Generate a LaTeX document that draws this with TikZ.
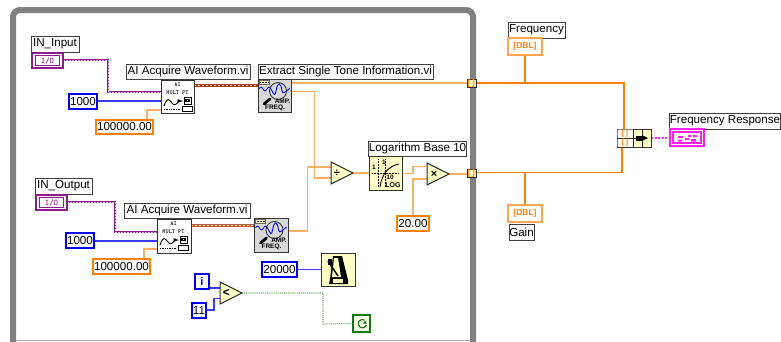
\documentclass[tikz,border=0pt]{standalone}
\usepackage{fontspec}
\setmainfont{Liberation Sans}
\usetikzlibrary{backgrounds}
\definecolor{wireor}{HTML}{FF8000}
\definecolor{thinor}{HTML}{FFAE66}
\definecolor{lvblue}{HTML}{0000F0}
\definecolor{thinbl}{HTML}{3838FF}
\definecolor{lvpurple}{HTML}{8C1C8C}
\definecolor{lvbrown}{HTML}{A83A0C}
\definecolor{lvyellow}{HTML}{FFFFC8}
\definecolor{lvpink}{HTML}{FF20F0}
\definecolor{lvgreen}{HTML}{107A10}
\tikzset{
  base/.style={inner sep=0pt,outer sep=0pt,font=\fontsize{11.6}{12}\selectfont},
  lbl/.style={base,draw=black!75,line width=0.9pt,fill=white},
  cblue/.style={base,draw=lvblue,line width=2.4pt,fill=white},
  corange/.style={base,draw=wireor,line width=2.4pt,fill=white},
  iotm/.style={base,draw=lvpurple,line width=2.2pt,fill=white},
  dblt/.style={base,draw=wireor!70,line width=1.2pt,fill=white,text=wireor,font=\fontsize{8.5}{8.5}\bfseries\selectfont},
  viw/.style={base,draw=black!80,line width=1pt,fill=white},
  vig/.style={base,draw=black!80,line width=1pt,fill=black!15},
  viy/.style={base,draw=black!80,line width=1pt,fill=lvyellow},
  tun/.style={base,draw=black!85,line width=1pt,fill=lvyellow,text=wireor,font=\fontsize{8.5}{8}\bfseries\selectfont},
  pinkt/.style={base,draw=lvpink,line width=1.2pt,fill=white},
  stopt/.style={base,draw=lvgreen,line width=1.3pt,fill=lvyellow!40},
  gap/.style={base},
  tri/.style={draw=black!85,line width=1pt,fill=lvyellow},
  thino/.style={draw=thinor,line width=1.2pt},
  thicko/.style={draw=wireor,line width=1.8pt},
  thinb/.style={draw=thinbl,line width=1.3pt},
  dotg/.style={draw=lvgreen!60,line width=1.1pt,densely dotted},
  tiny/.style={inner sep=0pt,font=\fontsize{6}{6}\ttfamily\bfseries\selectfont},
  aiicon/.pic={
    \node[tiny] (t1) at (16.5,5) {AI};
    \node[tiny] (t2) at (16.5,13) {MULT PT};
    \draw[black,line width=0.9pt] (3,26) .. controls (6,17) and (8,19) .. (11,23) .. controls (13,26) and (15,25) .. (17,22);
    \draw[black,densely dotted,line width=0.7pt] (3,29)--(19,29);
    \draw[black,line width=0.9pt,-latex] (17,21)--(22,21);
    \draw[black,line width=0.9pt] (23,17) rectangle (30,24);
    \draw[black,line width=1.3pt] (25,19.5) rectangle (28,21.5);
    \draw[black,line width=0.9pt] (21,26) rectangle (31,31);
  },
  ampicon/.pic={
    \fill[lvyellow,draw=black!60,line width=0.5pt] (1,1) rectangle (11,5);
    \draw[black,line width=0.5pt,densely dotted] (2,3)--(10,3);
    \draw[lvblue,line width=0.8pt] (1,10) sin (3,8) cos (5,10) sin (7,12) cos (9,10) sin (11,8) cos (13,10);
    \draw[black!85,line width=0.8pt] (20,12) circle (8.5);
    \draw[lvblue,line width=0.9pt] (13,10) .. controls (16,16) and (17,18) .. (18,12) .. controls (20,1) and (23,4) .. (24,12) .. controls (25,16) and (27,13) .. (32,9);
    \draw[black,line width=2.8pt,line cap=round] (12,20)--(6,25);
    \node[tiny,font=\fontsize{6.5}{6.5}\bfseries\selectfont] (t1) at (24.5,22) {AMP.};
    \node[tiny,font=\fontsize{6.5}{6.5}\bfseries\selectfont] (t2) at (17,29) {FREQ.};
  },
  logicon/.pic={
    \draw[black,line width=0.5pt,densely dotted] (9,3)--(9,31) (3,17)--(30,17) (16,3)--(16,31);
    \draw[black,line width=0.9pt] (11,31) .. controls (13,17) and (20,10) .. (30,8);
    \node[tiny,font=\fontsize{6.5}{6}\bfseries\selectfont] (t1) at (5,11) {1};
    \node[tiny,font=\fontsize{6.5}{6}\bfseries\selectfont] (t2) at (15,6) {1};
    \node[tiny,font=\fontsize{6.5}{6}\bfseries\selectfont] (t3) at (21,21) {10};
    \node[tiny,font=\fontsize{7}{7}\bfseries\selectfont] (t4) at (24,29) {LOG};
  },
  metroicon/.pic={
    \fill[black] (12,3)--(21,3)--(27,27)--(27,31)--(8,31)--(9,26)--cycle;
    \fill[lvyellow] (13,5)--(17,5)--(20,24)--(11,24)--cycle;
    \fill[lvyellow] (12,26) rectangle (22,30);
    \draw[black,line width=1.5pt] (7,8)--(17,23);
    \fill[black] (7,6) rectangle (11,12);
  },
  stopicon/.pic={
    \draw[lvgreen,line width=1.1pt,-] (11.5,5) arc[start angle=-60,end angle=-340,radius=4.2];
    \fill[lvgreen] (10,8.5) -- (13.5,8.5) -- (12,5.5) -- cycle;
  },
  bundleicon/.pic={
    \fill[white] (0.5,0.5) rectangle (16,8.5) (0.5,9.5) rectangle (16,17.5);
    \draw[black!85,line width=0.8pt] (16.5,0)--(16.5,18) (25,0)--(25,18) (0,9)--(16.5,9);
    \node[tiny,text=wireor,font=\fontsize{7.5}{7}\bfseries\selectfont] (t1) at (8,4.5) {[\,]};
    \node[tiny,text=wireor,font=\fontsize{7.5}{7}\bfseries\selectfont] (t2) at (8,13.5) {[\,]};
    \draw[black,line width=1pt] (16.5,9)--(22,9);
    \fill[black] (19,6.5) rectangle (25,11.5);
    \fill[black] (25,6)--(31,9)--(25,12)--cycle;
  },
  clustericon/.pic={
    \draw[lvpink,line width=1.2pt] (3,3) rectangle (31,14);
    \fill[lvpink] (8,7) rectangle (13,9) (15,9) rectangle (19,11) (23,6) rectangle (27,8) (8,10.5) rectangle (12,12.5) (21,10) rectangle (26,12.5) (18,6) rectangle (21,8);
  },
}
\newcommand{\bx}[7]{\node[#1,minimum width={(#5-#3)*1pt},minimum height={(#6-#4)*1pt}] (#2) at ({(#3+#5)/2},{(#4+#6)/2}) {#7};}
\newcommand{\trinode}[5]{%
  \node[gap,minimum width={(#4-#2)*1pt},minimum height={(#5-#3)*1pt}] (#1) at ({(#2+#4)/2},{(#3+#5)/2}) {};
  \path[tri] (#1.north west)--(#1.east)--(#1.south west)--cycle;}
\begin{document}
\begin{tikzpicture}[x=1pt,y=-1pt]
\useasboundingbox (0,0) rectangle (781,341);
% frame
\draw[black!50,line width=6pt,rounded corners=7pt] (13,345)--(13,10)--(473,10)--(473,345);
\draw[black!30,line width=1.2pt] (16,340.4)--(470,340.4);
% labels
\bx{lbl}{lIn}{31}{36}{79}{52}{IN\_Input}
\bx{lbl}{lAiA}{126}{64}{250}{79}{AI Acquire Waveform.vi}
\bx{lbl}{lExt}{258}{64}{433}{79}{Extract Single Tone Information.vi}
\bx{lbl}{lOut}{35}{178}{92}{194}{IN\_Output}
\bx{lbl}{lAiB}{124}{203}{250}{218}{AI Acquire Waveform.vi}
\bx{lbl}{lLog}{369}{141}{466}{156}{Logarithm Base 10}
\bx{lbl}{lFreq}{508}{22}{565}{38}{Frequency}
\bx{lbl}{lGain}{509}{224}{534}{240}{Gain}
\bx{lbl}{lResp}{670}{113}{780}{129}{Frequency Response}
% I/O terminals
\bx{iotm}{ioA}{32}{53}{63}{68}{}
\bx{iotm}{ioB}{36}{195}{67}{210}{}
\node[draw=lvpurple,line width=0.8pt,minimum width=24pt,minimum height=10pt,inner sep=0pt,font=\fontsize{8.5}{8}\ttfamily\bfseries\selectfont,text=lvpurple] (ioAt) at (ioA) {I/O};
\node[draw=lvpurple,line width=0.8pt,minimum width=24pt,minimum height=10pt,inner sep=0pt,font=\fontsize{8.5}{8}\ttfamily\bfseries\selectfont,text=lvpurple] (ioBt) at (ioB) {I/O};
% constants
\bx{cblue}{nA}{69}{94}{97}{109}{1000}
\bx{corange}{rA}{96}{120}{153}{134}{100000.00}
\bx{cblue}{nB}{66}{233}{94}{248}{1000}
\bx{corange}{rB}{93}{259}{150}{274}{100000.00}
\bx{corange}{cTw}{397}{216}{429}{231}{20.00}
\bx{cblue}{cWait}{262}{262}{297}{277}{20000}
\bx{cblue}{cI}{195}{274}{209}{289}{\textcolor{lvblue}{\fontsize{11}{11}\bfseries\selectfont i}}
\bx{cblue}{cEl}{192}{303}{206}{318}{11}
% VIs
\bx{viw}{aiA}{161}{80}{194}{113}{}
\bx{viw}{aiB}{157}{219}{191}{253}{}
\bx{vig}{ampA}{258}{79}{291}{112}{}
\bx{vig}{ampB}{254}{218}{288}{252}{}
\bx{viy}{logf}{369}{156}{402}{190}{}
\bx{viy}{metro}{321}{253}{355}{286}{}
\bx{viy}{bund}{617}{129}{651}{147}{}
\bx{tun}{tunA}{467}{79}{476}{87}{[\,]}
\bx{tun}{tunB}{467}{169}{476}{177}{[\,]}
\bx{dblt}{dF}{508}{38}{542}{55}{[DBL]}
\bx{dblt}{dG}{508}{205}{542}{222}{[DBL]}
\bx{pinkt}{resp}{670}{129}{704}{146}{}
\bx{stopt}{stopb}{353}{315}{370}{332}{}
% icons
\pic (ia) at (161,80) {aiicon};
\pic (ib) at (157,219) {aiicon};
\pic (ma) at (258,79) {ampicon};
\pic (mb) at (254.5,218) {ampicon};
\pic (lg) at (369,156) {logicon};
\pic (mt) at (321,253) {metroicon};
\pic (bd) at (617,129) {bundleicon};
\pic (cl) at (670,129) {clustericon};
\pic (st) at (353,315) {stopicon};
% primitives
\trinode{fdiv}{331}{162}{353}{184}
\node[inner sep=0pt,font=\fontsize{11}{11}\bfseries\selectfont] (tdiv) at (337,173) {÷};
\trinode{fmul}{427}{163}{449}{185}
\node[inner sep=0pt,font=\fontsize{11}{11}\bfseries\selectfont] (tmul) at (434,174) {×};
\trinode{flt}{220}{282}{242}{304}
\node[inner sep=0pt,font=\fontsize{12}{12}\bfseries\selectfont] (tlt) at (226.5,293) {<};
% wires
\begin{scope}[on background layer]
\draw[lvpurple,line width=2.6pt] (ioA.east |- 0,60) -- (108,60) -- (108,92) -- (aiA.west |- 0,92);
\draw[lvpurple!30,line width=0.8pt,dash pattern=on 1.5pt off 1.5pt] (ioA.east |- 0,60) -- (108,60) -- (108,92) -- (aiA.west |- 0,92);
\draw[lvpurple,line width=2.6pt] (ioB.east |- 0,202) -- (115,202) -- (115,232) -- (aiB.west |- 0,232);
\draw[lvpurple!30,line width=0.8pt,dash pattern=on 1.5pt off 1.5pt] (ioB.east |- 0,202) -- (115,202) -- (115,232) -- (aiB.west |- 0,232);
\draw[thinb] (nA.east |- 0,101) -- (aiA.west |- 0,101);
\draw[thinb] (nB.east |- 0,241) -- (aiB.west |- 0,241);
\draw[thino] (rA.north -| 147,0) -- (147,110) -- (aiA.west |- 0,110);
\draw[thino] (rB.north -| 144,0) -- (144,249) -- (aiB.west |- 0,249);
\draw[lvbrown,line width=3pt] (aiA.east |- 0,85) -- (ampA.west |- 0,85);
\draw[white!70!orange,line width=0.9pt,dash pattern=on 2pt off 2pt] (aiA.east |- 0,85) -- (ampA.west |- 0,85);
\draw[lvbrown!80,line width=3pt] (aiB.east |- 0,225) -- (ampB.west |- 0,225);
\draw[white!70!orange,line width=0.9pt,dash pattern=on 2pt off 2pt] (aiB.east |- 0,225) -- (ampB.west |- 0,225);
\draw[thino] (ampA.east |- 0,83) -- (tunA.west |- 0,83);
\draw[thino] (ampA.east |- 0,91.5) -- (314.5,91.5) -- (314.5,178) -- (fdiv.west |- 0,178);
\draw[thino] (ampB.east |- 0,231) -- (307.5,231) -- (307.5,167) -- (fdiv.west |- 0,167);
\draw[thino] (fdiv.east) -- (logf.west |- fdiv.east);
\draw[thino] (logf.east |- 0,173.5) -- (413,173.5) -- (413,166.5) -- (fmul.west |- 0,166.5);
\draw[thino] (cTw.north -| 413,0) -- (413,179) -- (fmul.west |- 0,179);
\draw[thino] (fmul.east) -- (tunB.west |- fmul.east);
\draw[thicko] (tunA.east |- 0,83) -- (624,83) -- (624,129);
\draw[thicko] (tunB.east |- 0,172.5) -- (622,172.5) -- (622,147);
\draw[thicko] (dF.south) -- (dF.south |- 0,83);
\draw[thicko] (dG.north) -- (dG.north |- 0,172.5);
\draw[lvpink,line width=2pt,dash pattern=on 2pt off 1.5pt] (bund.east |- resp.west) -- (resp.west);
\draw[thinb] (cWait.east |- metro.west) -- (metro.west);
\draw[thinb] (cI.east |- 0,288) -- (flt.west |- 0,288);
\draw[thinb] (cEl.east |- 0,310) -- (214,310) -- (214,298.5) -- (flt.west |- 0,298.5);
\draw[dotg] (flt.east) -- (323,293) -- (323,324) -- (stopb.west);
\end{scope}
\end{tikzpicture}
\end{document}
